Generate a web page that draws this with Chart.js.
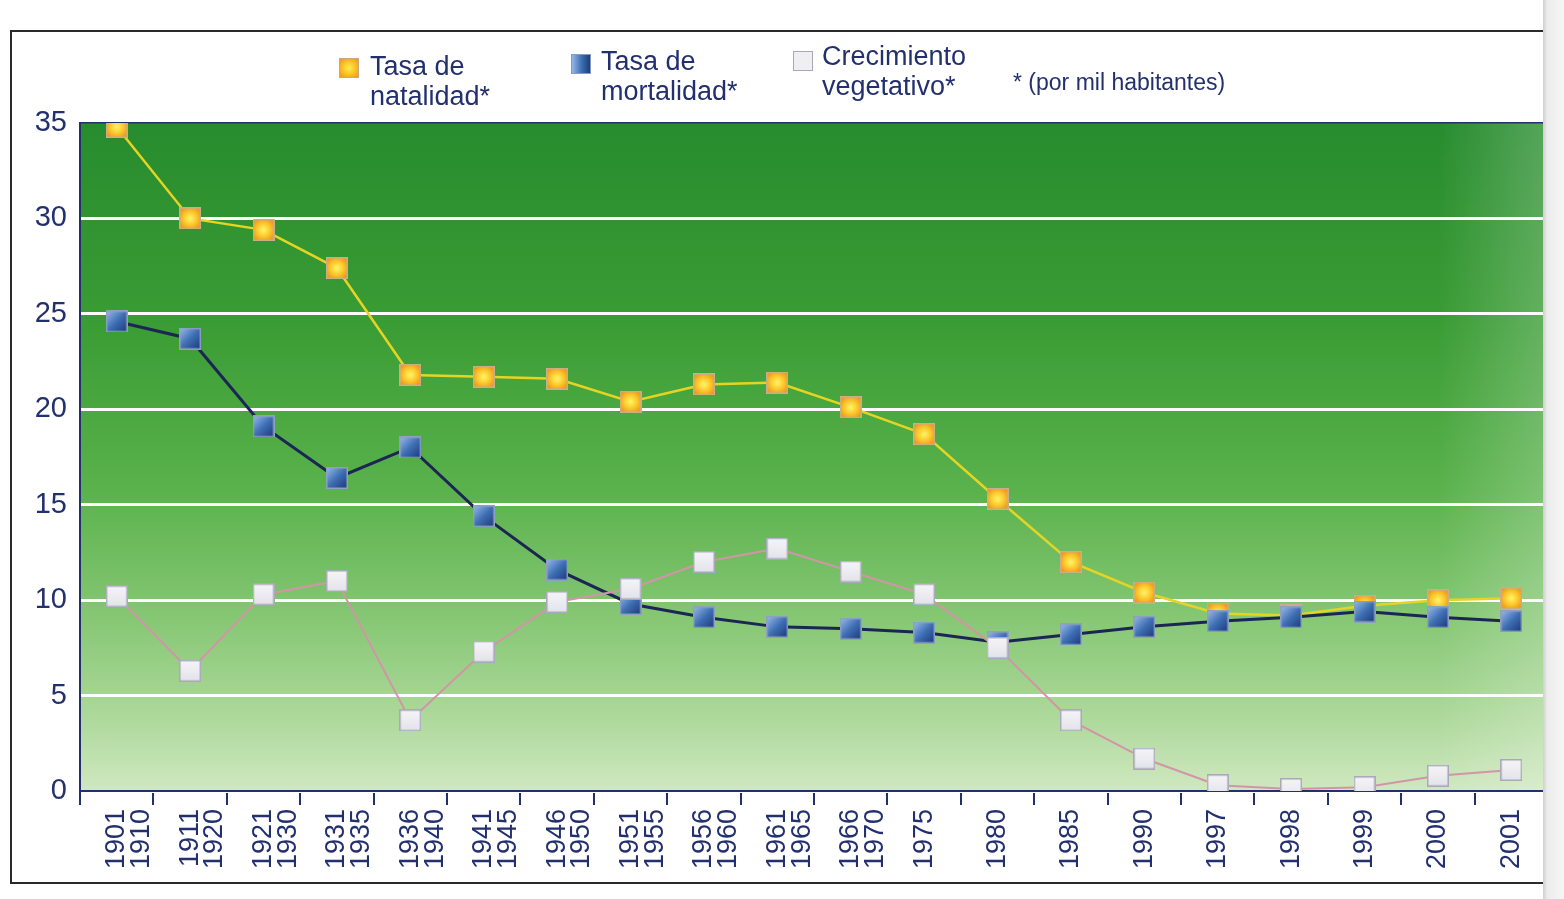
<!DOCTYPE html>
<html>
<head>
<meta charset="utf-8">
<script src="https://cdn.jsdelivr.net/npm/chart.js@4/dist/chart.umd.min.js"></script>
<style>
  html, body { margin: 0; padding: 0; background: #fff; }
  #wrap { position: relative; width: 1564px; height: 899px; overflow: hidden; font-family: "Liberation Sans", Arial, sans-serif; color: #23306e; }
  #frame { position: absolute; left: 10px; top: 30px; width: 1540px; height: 854px; border: 2px solid #2a2a2a; box-sizing: border-box; }
  canvas { position: absolute; left: 0; top: 0; }
  .item { position: absolute; font-size: 27px; line-height: 30px; }
  .mark { position: absolute; width: 20px; height: 20px; box-sizing: border-box; }
  .note { position: absolute; font-size: 23px; }
</style>
</head>
<body>
<div id="wrap">
  <div id="frame"></div>
  <canvas id="chart" width="1564" height="899"></canvas>
  <div class="mark" style="left:339px;top:58px;border:1px solid #c8a880;background:radial-gradient(circle,#ffee50 0%,#fbc428 50%,#ee9418 100%);"></div>
  <div class="item" style="left:370px;top:51px;">Tasa de<br>natalidad*</div>
  <div class="mark" style="left:571px;top:54px;border:1px solid #8a9ab8;background:linear-gradient(90deg,#93b8e8 0%,#3c6cb0 55%,#1c3c80 100%);"></div>
  <div class="item" style="left:601px;top:46px;">Tasa de<br>mortalidad*</div>
  <div class="mark" style="left:793px;top:51px;border:1px solid #a8a8b8;background:#eeeef3;"></div>
  <div class="item" style="left:822px;top:41px;">Crecimiento<br>vegetativo*</div>
  <div class="note" style="left:1013px;top:69px;">* (por mil habitantes)</div>
</div>
<script>
const periodos = [
  ['1901', '1910'], ['1911', '1920'], ['1921', '1930'], ['1931', '1935'],
  ['1936', '1940'], ['1941', '1945'], ['1946', '1950'], ['1951', '1955'],
  ['1956', '1960'], ['1961', '1965'], ['1966', '1970'],
  '1975', '1980', '1985', '1990', '1997', '1998', '1999', '2000', '2001'
];
const natalidad = [34.8, 30.0, 29.4, 27.4, 21.8, 21.7, 21.6, 20.4, 21.3, 21.4, 20.1, 18.7, 15.3, 12.0, 10.4, 9.3, 9.2, 9.7, 10.0, 10.1];
const mortalidad = [24.6, 23.7, 19.1, 16.4, 18.0, 14.4, 11.6, 9.8, 9.1, 8.6, 8.5, 8.3, 7.8, 8.2, 8.6, 8.9, 9.1, 9.4, 9.1, 8.9];
const crecimiento = [10.2, 6.3, 10.3, 11.0, 3.7, 7.3, 9.9, 10.6, 12.0, 12.7, 11.5, 10.3, 7.5, 3.7, 1.7, 0.3, 0.1, 0.2, 0.8, 1.1];
const yTicks = [0, 5, 10, 15, 20, 25, 30, 35];

const azul = '#23306e';

// marcadores cuadrados con degradado, como en el original
function makeMarker(kind) {
  const size = 22;
  const c = document.createElement('canvas');
  c.width = size; c.height = size;
  const g = c.getContext('2d');
  let fill, border;
  if (kind === 'nat') {
    fill = g.createRadialGradient(11, 11, 1, 11, 11, 13);
    fill.addColorStop(0, '#fff060');
    fill.addColorStop(0.5, '#fcc52a');
    fill.addColorStop(1, '#ec9018');
    border = '#c9ad8c';
  } else if (kind === 'mor') {
    fill = g.createLinearGradient(0, 0, size, size);
    fill.addColorStop(0, '#9cc0ee');
    fill.addColorStop(0.5, '#3f6fb4');
    fill.addColorStop(1, '#1a3678');
    border = '#8fa0bf';
  } else {
    fill = g.createLinearGradient(0, 0, 0, size);
    fill.addColorStop(0, '#f6f6f9');
    fill.addColorStop(1, '#e2e2ea');
    border = '#a9a9ba';
  }
  g.fillStyle = fill;
  g.fillRect(0, 0, size, size);
  g.strokeStyle = border;
  g.lineWidth = 1.5;
  g.strokeRect(0.75, 0.75, size - 1.5, size - 1.5);
  return c;
}

const fondo = {
  id: 'fondo',
  beforeDraw(chart) {
    const { ctx, chartArea: a } = chart;
    const grad = ctx.createLinearGradient(0, a.top, 0, a.bottom);
    grad.addColorStop(0, '#278c2e');
    grad.addColorStop(0.3, '#3a9c34');
    grad.addColorStop(0.55, '#5ab24c');
    grad.addColorStop(0.75, '#88c876');
    grad.addColorStop(0.9, '#b0da9e');
    grad.addColorStop(1, '#d0e8c0');
    ctx.save();
    ctx.fillStyle = grad;
    ctx.fillRect(a.left, a.top, a.right - a.left, a.bottom - a.top);
    const side = ctx.createLinearGradient(a.right - 110, 0, a.right, 0);
    side.addColorStop(0, 'rgba(255,255,255,0)');
    side.addColorStop(1, 'rgba(255,255,255,0.22)');
    ctx.fillStyle = side;
    ctx.fillRect(a.right - 110, a.top, 110, a.bottom - a.top);
    ctx.restore();
  },
  afterDraw(chart) {
    const { ctx } = chart;
    ctx.save();
    const edge = ctx.createLinearGradient(1543, 0, 1564, 0);
    edge.addColorStop(0, '#cfcfcf');
    edge.addColorStop(0.2, '#ececec');
    edge.addColorStop(1, '#f6f6f6');
    ctx.fillStyle = edge;
    ctx.fillRect(1543, 0, 21, 899);
    ctx.restore();
  }
};

new Chart(document.getElementById('chart'), {
  type: 'line',
  data: {
    labels: periodos,
    datasets: [
      {
        label: 'Tasa de natalidad*',
        data: natalidad,
        borderColor: '#e6d424',
        borderWidth: 2.5,
        pointStyle: makeMarker('nat'),
        order: 3
      },
      {
        label: 'Tasa de mortalidad*',
        data: mortalidad,
        borderColor: '#1c2654',
        borderWidth: 3,
        pointStyle: makeMarker('mor'),
        order: 2
      },
      {
        label: 'Crecimiento vegetativo*',
        data: crecimiento,
        borderColor: '#d494a8',
        borderWidth: 2,
        pointStyle: makeMarker('cre'),
        order: 1
      }
    ]
  },
  options: {
    responsive: false,
    animation: false,
    layout: { padding: { left: 0, top: 123, right: 16, bottom: 0 } },
    plugins: {
      legend: { display: false },
      tooltip: { enabled: false }
    },
    scales: {
      x: {
        offset: true,
        afterFit(scale) { scale.height = 108; },
        grid: {
          offset: true,
          drawOnChartArea: false,
          drawTicks: true,
          tickLength: 14,
          color: azul,
          lineWidth: 2
        },
        border: { color: azul, width: 2 },
        ticks: {
          autoSkip: false,
          minRotation: 90,
          maxRotation: 90,
          padding: 4,
          color: azul,
          font: { family: '"Liberation Sans", Arial, sans-serif', size: 27, lineHeight: 0.92 }
        }
      },
      y: {
        min: 0,
        max: 35,
        afterFit(scale) { scale.width = 80; },
        afterBuildTicks(scale) { scale.ticks = yTicks.map(v => ({ value: v })); },
        grid: {
          drawTicks: false,
          color: ctx => ctx.tick && ctx.tick.value === 35 ? azul : '#ffffff',
          lineWidth: ctx => ctx.tick && ctx.tick.value === 35 ? 1.5 : 3
        },
        border: { color: azul, width: 2 },
        ticks: {
          padding: 13,
          color: azul,
          font: { family: '"Liberation Sans", Arial, sans-serif', size: 29 }
        }
      }
    }
  },
  plugins: [fondo]
});
</script>
</body>
</html>
